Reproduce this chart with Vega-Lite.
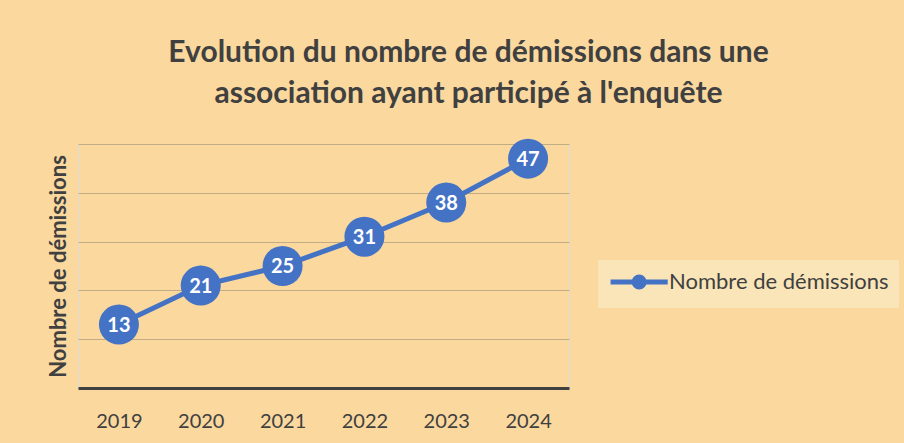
{
  "$schema": "https://vega.github.io/schema/vega-lite/v6.json",
  "width": 491,
  "height": 244,
  "autosize": "none",
  "padding": {"left": 78, "top": 144, "right": 335, "bottom": 55},
  "background": "#FBD89E",
  "title": {
    "text": ["Evolution du nombre de démissions dans une", "association ayant participé à l'enquête"],
    "font": "Lato",
    "fontSize": 30,
    "fontWeight": "bold",
    "color": "#404040",
    "anchor": "middle",
    "dx": 145,
    "offset": 30,
    "lineHeight": 41
  },
  "data": {
    "values": [
      {"annee": "2019", "demissions": 13, "serie": "Nombre de démissions"},
      {"annee": "2020", "demissions": 21, "serie": "Nombre de démissions"},
      {"annee": "2021", "demissions": 25, "serie": "Nombre de démissions"},
      {"annee": "2022", "demissions": 31, "serie": "Nombre de démissions"},
      {"annee": "2023", "demissions": 38, "serie": "Nombre de démissions"},
      {"annee": "2024", "demissions": 47, "serie": "Nombre de démissions"}
    ]
  },
  "encoding": {
    "x": {
      "field": "annee",
      "type": "ordinal",
      "scale": {"type": "point", "padding": 0.5},
      "axis": {
        "title": null,
        "labelAngle": 0,
        "ticks": false,
        "domainColor": "#404040",
        "domainWidth": 3,
        "labelFont": "Lato",
        "labelFontSize": 20,
        "labelColor": "#404040",
        "labelPadding": 23
      }
    },
    "y": {
      "field": "demissions",
      "type": "quantitative",
      "scale": {"domain": [0, 50], "nice": false},
      "axis": {
        "title": "Nombre de démissions",
        "titleFont": "Lato",
        "titleFontSize": 22,
        "titleFontWeight": "bold",
        "titleColor": "#404040",
        "titlePadding": 8,
        "labels": false,
        "ticks": false,
        "domain": false,
        "values": [10, 20, 30, 40, 50],
        "gridColor": "#C2AC85",
        "gridWidth": 1.2
      }
    }
  },
  "layer": [
    {
      "mark": {"type": "line", "strokeWidth": 5},
      "encoding": {
        "color": {
          "field": "serie",
          "type": "nominal",
          "scale": {"range": ["#4472C4"]},
          "legend": {
            "title": null,
            "orient": "none",
            "legendX": 520,
            "legendY": 116,
            "padding": 10,
            "fillColor": "#F9E5B8",
            "symbolType": "M -1 0 L 5.06 0 M 2.56 0 A 0.53 0.53 0 1 1 1.5 0 A 0.53 0.53 0 1 1 2.56 0 Z",
            "symbolSize": 356,
            "symbolStrokeWidth": 5,
            "symbolStrokeColor": "#4472C4",
            "symbolFillColor": "#4472C4",
            "labelFont": "Lato",
            "labelFontSize": 22,
            "labelColor": "#404040",
            "labelLimit": 400,
            "labelOffset": 37
          }
        }
      }
    },
    {
      "mark": {"type": "point", "filled": true, "opacity": 1, "size": 1600, "color": "#4472C4"}
    },
    {
      "mark": {"type": "text", "font": "Lato", "fontSize": 20, "fontWeight": "bold", "color": "#FFFFFF", "baseline": "middle", "dy": 1},
      "encoding": {"text": {"field": "demissions", "type": "quantitative"}}
    }
  ]
}
